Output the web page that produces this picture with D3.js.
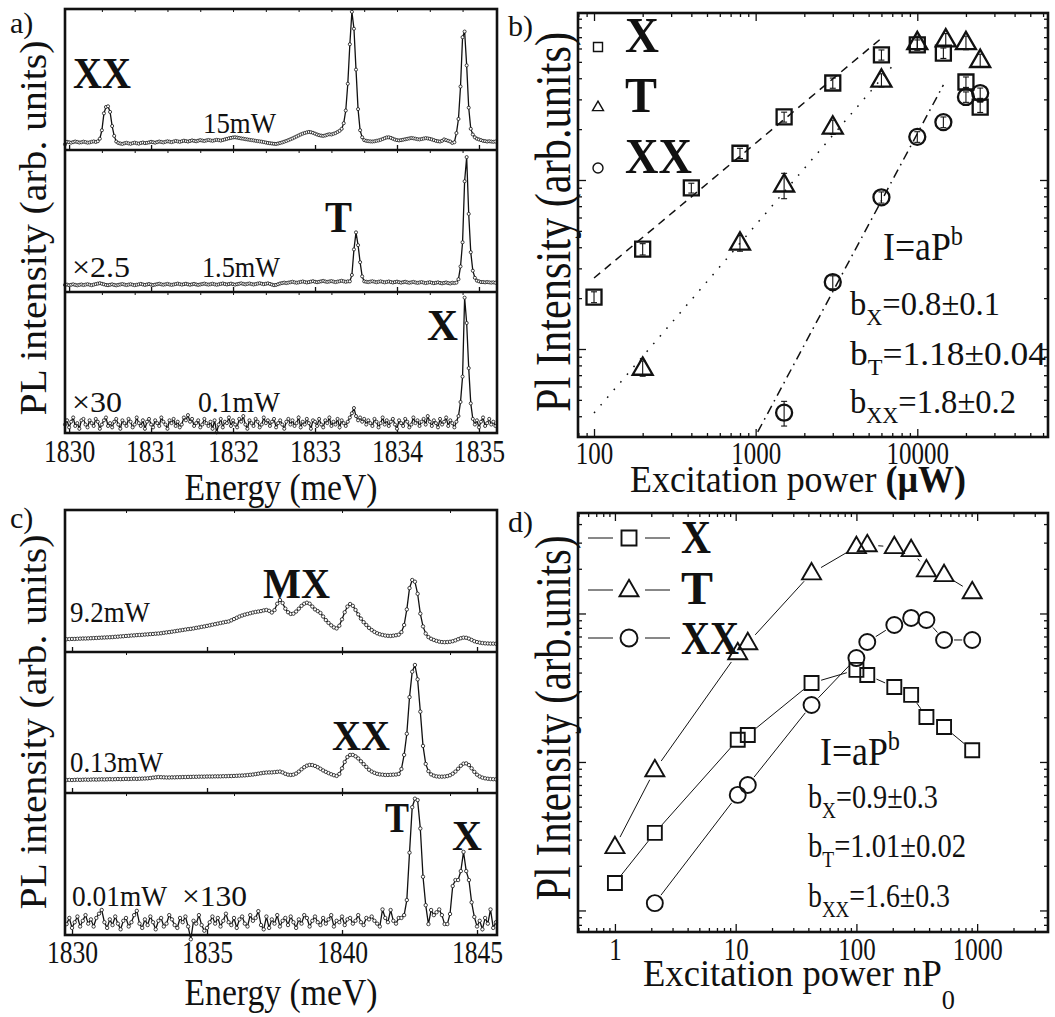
<!DOCTYPE html>
<html><head><meta charset="utf-8">
<script src="https://cdn.jsdelivr.net/npm/d3@7"></script>
<style>body{margin:0;background:#fff}svg{display:block}</style>
</head><body><svg id="fig" width="1055" height="1017"></svg>
<script>
// ---------------- DATA ----------------
// Panel a: PL spectra, uniform energy grid
const energyStartA = 1829.95, energyStepA = 0.025;
const specA15mW = [
4,5.8,5.5,5.2,5.6,6,5.7,5.3,5.5,5.9,
5.6,5.2,5.4,5.8,6.1,5.7,6.2,8,14,26,
30.5,31,27,17,10,6,5,4.6,4.3,4.8,
5.1,4.7,4.4,4.9,5.2,4.8,4.5,5,5.3,4.9,
5.1,5.4,5.8,5.5,5.2,5.6,6,5.7,5.4,5.8,
6.2,5.9,5.6,6,6.4,6.1,5.8,6.2,6.6,6.3,
6,6.4,6.8,6.5,6.2,6.6,7,6.7,6.4,6.8,
7.1,6.8,6.5,6.9,7.2,7,6.7,7.1,7.5,7.9,
8.3,8.6,8.9,9,8.8,8.5,8.2,8,7.7,7.5,
7.2,7,6.8,6.5,6.3,6.1,5.9,5.6,5.3,5,
4.8,4.6,4.4,4.3,4.6,5,5.4,5.9,6.4,7,
7.6,8.2,8.9,9.6,10.3,11,11.6,12.1,12.5,12.8,
12.6,12.2,11.6,11,10.5,10.2,10,10.3,10.8,11.2,
11,11.5,12,12.8,13.6,15,19,28,47,75,
98,86,57,29,14,9,7,6.5,6.3,6.1,
6,6.2,6.5,6.8,7.2,7.8,8.4,8.9,9,8.6,
8,7.4,7,6.8,7,7.3,7.6,7.9,8.2,8.5,
8.3,8,7.7,7.5,7.8,8.1,8.4,8.2,7.9,7.5,
7,6.5,6.2,6,6.5,7.5,7,6.5,6,5,
5.5,12,22,45,80,84,60,30,15,11,
9,8,7.5,7,6.5,6.3,6,6.2,6,5.8,6];
const specA1p5mW = [
5,5.2,4.8,5.1,5.4,5,4.7,5,5.3,4.9,
5.2,5.5,5.1,4.8,5.2,5.6,5.9,6.2,5.8,5.4,
5,4.8,5.1,5.4,5,4.7,5,5.3,5.6,5.2,
4.9,5.2,5.5,5.1,4.8,5.1,5.4,5.7,5.3,5,
5.3,5.6,5.2,4.9,5.2,5.5,5.8,5.4,5.1,5.4,
5.7,5.3,5,5.3,5.6,5.9,5.5,5.2,5.5,5.8,
5.4,5.1,5.4,5.7,5.3,5,5.3,5.6,5.9,5.5,
5.2,5.5,5.8,5.4,5.1,5.4,5.7,6,5.6,5.3,
5.6,5.9,5.5,5.2,5.5,5.8,6.1,5.7,5.4,5.7,
6,5.6,5.3,5.6,5.9,6.2,5.8,5.5,5.8,6.1,
5.7,5.2,4.8,5,5.5,6,6.3,6.6,6.3,6.6,
6.9,7.2,6.8,6.5,6.8,7.1,7.4,7,6.7,7,
7.3,7.6,7.2,6.9,7.2,7.5,7.8,7.4,7.1,7.4,
7.7,7.3,7,7.3,7.6,7.9,7.5,7.2,7.5,7.5,
12,30,42,33,21,11,7.5,7.2,7,7.3,
7.6,7.2,6.9,7.2,7.5,7.1,6.8,7.1,7.4,7,
6.7,7,7.3,6.9,6.6,6.9,7.2,6.8,6.5,6.8,
7.1,6.7,6.4,6.7,7,6.6,6.3,6.6,6.9,6.5,
6.2,6.5,6.8,6.4,6.1,6.4,6.7,6.3,6,6.5,
6.3,6.6,9,18,35,78,95,55,28,15,
10,8,7.5,7,7,6.8,7,6.8,6.6,6.8,6.5];
const specA0p1mW = [
6,9,4,8,11,5,7,3,9,10,
6,4,9,7,5,10,8,3,6,9,
11,5,7,4,8,10,6,3,9,7,
5,10,8,4,6,11,7,5,9,3,
8,10,6,4,9,7,5,11,8,6,
3,9,7,10,5,8,4,6,11,9,
12.7,8,10,5,7,9,4,6,10,7,
5,8,3,9,0.5,6,10,4,8,7,
11,5,9,6,4,10,8,12,6,3,
9,7,5,10,8,4,6,11,7,9,
5,8,10,4,7,9,6,3,8,10,
6,9,5,7,11,4,8,6,10,7,
3,9,8,5,10,6,4,9,7,11,
5,8,6,10,4,9,7,5,8,11,
14,17.7,12,9,11,8,10,6,9,7,
5,10,8,4,7,11,6,9,5,8,
10,6,3,9,7,5,10,8,4,6,
11,7,9,5,8,10,6,12,8,5,
9,7,4,10,6,8,11,5,9,7,
4,8,12,22,40,96,78,46,21,10,
6,9,4,8,11,5,7,10,6,8,5];
const spectraA = [specA15mW, specA1p5mW, specA0p1mW];
const tickEnergyA = [1830, 1831, 1832, 1833, 1834, 1835];

// Panel c: PL spectra
const energyStartC = 1829.8, energyStepC = 0.1;
const specC9p2mW = [
9,9.1,9.2,9.2,9.3,9.4,9.5,9.5,9.6,9.7,
9.8,9.9,10,10.1,10.2,10.3,10.4,10.5,10.7,10.8,
11,11.1,11.3,11.4,11.6,11.7,11.9,12,12.1,12.3,
12.4,12.6,12.7,12.9,13,13.2,13.5,13.8,14,14.3,
14.6,14.9,15.2,15.5,15.8,16.1,16.3,16.6,17,17.3,
17.7,18,18.4,18.8,19.2,19.6,20,20.4,20.8,21.2,
21.5,22.3,23.2,24.1,25,25.7,26.3,26.8,27.3,27.8,
28.2,28.5,28.8,29.3,29.6,29,27.8,29.5,34,36.6,
34.5,30.5,28,26.8,27,28.5,30.5,32.5,34,34.7,
34,32,30,28.8,27.5,25,22.5,20.5,18.8,17.3,
16.6,18.5,23,28,32,33.8,32.5,29.6,26.5,23.5,
21,19,17,15.5,14.2,13.2,12.5,12,11.6,11.4,
11.3,11.5,11.8,12.2,14,19,30,45,50.7,49.5,
41,27,18,13,10.5,9.3,8.5,7.8,7.3,7,
6.9,7,7.2,7.6,8.2,9,9.7,10.1,10,9.4,
8.5,7.6,7,6.6,6.3,6.1,6,5.9,5.9,5.8];
const specC0p13mW = [
9.2,9.3,9.2,9.3,9.4,9.3,9.4,9.5,9.4,9.5,
9.6,9.5,9.6,9.7,9.6,9.7,9.8,9.7,9.8,9.9,
9.8,9.9,10,9.9,10,10.1,10,10.1,10.2,10.3,
10.4,10.6,10.9,11.1,11.3,11.2,11.1,11,11,11.1,
11.1,11.2,11.2,11.3,11.3,11.4,11.4,11.5,11.5,11.6,
11.6,11.6,11.7,11.7,11.7,11.8,11.8,11.8,11.9,11.9,
12,12,12.1,12.2,12.3,12.4,12.5,12.7,12.9,13.1,
13.4,13.7,14,14.3,14.5,14.6,14.6,14.8,15,15.2,
14.6,13.6,13,12.8,13,13.8,15.2,16.8,18.3,19.4,
19.9,19.8,19.2,18.3,17.2,16,15,14.1,13.3,12.6,
12.1,13.5,17.5,22,25.5,27,27,26,24.5,22.5,
20.5,18.5,16.5,15.2,14.3,13.6,13.2,13,12.8,12.8,
12.9,13,13.1,13.5,17,27,42,68,86,90.8,
80.6,57.7,33.4,20.6,15.5,13.2,12.3,11.8,11.6,11.6,
11.7,12,12.6,13.7,15.2,17.2,19.3,20.8,21,19.8,
17.5,15,13,11.7,10.9,10.4,10.1,9.9,9.8,9.7];
const specC0p01mW = [
7.7,12,5,9,13,6,10,14,8,11,
6,12,15,17.6,9,5,11,7,13,8,
4,10,12,6,9,14,17,8,5,11,
7,13,9,4,10,12,6,8,14,11,
7,5,12,9,13,6,-3,10,8,14,
7,3,5,9,13,8,12,6,10,15,
9,7,12,5,11,13,8,6,14,10,
12,16.8,7,4,13,5,11,8,14,6,
10,12,7,13,9,5,11,8,14,12,
6,10,13,9,7,12,8,11,14,6,
10,9,13,7,11,12,8,10,14,9,
7,12,11,13,10,8,6,18,12,9,
17.6,10,8,12,12,14,24.6,58,90,96,
95,75,41,21,7.7,17.6,14,16,18,14,
7.7,7.7,14.8,34.5,38.7,38.7,45,58.5,45,38.7,
23,12.7,6,10,4,12,8,18,5,9];
const spectraC = [specC9p2mW, specC0p13mW, specC0p01mW];
const tickEnergyC = [1830, 1835, 1840, 1845];

// Panel b: integrated intensity vs excitation power (µW), log-log
const powerBX  = [100, 200, 400, 800, 1500, 3000, 6000, 10000, 14500, 20000, 24500];
const intensBX = [2.03, 3.9, 8.97, 14.4, 23.6, 37.5, 55, 63, 56.4, 38, 27];
const errBX    = [0.15, 0.3, 0.6, 1.0, 1.6, 2.6, 3.8, 4.4, 4, 2.7, 1.9];
const powerBT  = [200, 800, 1500, 3000, 6000, 10000, 15000, 20000, 24500];
const intensBT = [0.77, 4.24, 9.35, 20.6, 39, 65, 67.5, 65, 51];
const errBT    = [0.08, 0.45, 1.6, 2, 3.5, 6, 6, 6, 4.5];
const powerBXX  = [1500, 3000, 6000, 10000, 14500, 20000, 24500];
const intensBXX = [0.42, 2.49, 7.9, 18, 22, 31, 32.7];
const errBXX    = [0.07, 0.22, 0.6, 1.3, 1.6, 2.2, 2.3];
const fitBX  = [[100, 2.63], [6000, 69]];
const fitBT  = [[100, 0.418], [7100, 47.9]];
const fitBXX = [[1030, 0.323], [14500, 36.5]];
const tickPowerB = [100, 1000, 10000];

// Panel d: intensity vs excitation power nP0, log-log
const powerD   = [1, 2.14, 10.4, 12.6, 42.5, 100, 123, 206, 284, 380, 532, 910];
const intensDX = [0.153, 0.333, 1.41, 1.52, 3.40, 4.17, 3.85, 3.20, 2.83, 2.01, 1.72, 1.20];
const intensDT = [0.268, 0.883, 5.42, 6.33, 18.7, 28.1, 28.9, 28.1, 26.8, 19.6, 18.2, 13.95];
const powerDXX  = [2.14, 10.4, 12.6, 42.5, 100, 123, 206, 284, 380, 532, 910];
const intensDXX = [0.112, 0.600, 0.700, 2.42, 5.01, 6.43, 8.37, 9.33, 9.04, 6.63, 6.63];
const tickPowerD = [1, 10, 100, 1000];

// ---------------- DRAWING ----------------
const svg = d3.select("#fig");
const SERIF = '"Liberation Serif","Times New Roman",Times,serif';
const INK = "#111";
svg.append("rect").attr("width", 1055).attr("height", 1017).attr("fill", "#fff");

function label(parent, x, y, parts, o = {}) {
  const size = o.size || 30;
  const t = parent.append("text").attr("x", x).attr("y", y)
    .attr("font-family", SERIF).attr("font-size", size).attr("fill", INK)
    .attr("font-weight", o.bold ? "bold" : "normal")
    .attr("text-anchor", o.anchor || "start");
  if (o.rotate) t.attr("transform", `rotate(-90 ${x} ${y})`);
  if (typeof parts === "string") parts = [[parts]];
  let shift = 0;
  parts.forEach(([s, k]) => {
    const target = k === "sub" ? size * (o.subShift || 0.3) : k === "sup" ? -size * 0.38 : 0;
    const ts = t.append("tspan").text(s).attr("dy", target - shift);
    if (k === "sub" || k === "sup") ts.attr("font-size", size * (o.subScale || 0.68));
    if (k === "bold") ts.attr("font-weight", "bold");
    shift = target;
  });
  if (o.width) t.attr("textLength", o.width).attr("lengthAdjust", "spacingAndGlyphs");
  return t;
}
function squeeze(sel, f) {
  sel.each(function () {
    const L = this.getComputedTextLength();
    d3.select(this).attr("textLength", L * f).attr("lengthAdjust", "spacingAndGlyphs");
  });
}
function styleAxis(g, size) {
  g.attr("font-family", SERIF).attr("font-size", size || 32);
  g.select(".domain").remove();
  g.selectAll(".tick line").attr("stroke", INK).attr("stroke-width", 1.3);
  g.selectAll(".tick text").attr("fill", INK);
}

// ---- spectra panels (a, c) ----
function spectraPanel(cfg) {
  const g = svg.append("g");
  const x = cfg.x;
  const [xl, xr] = x.range();
  cfg.bands.forEach((band, bi) => {
    const y = d3.scaleLinear().domain([0, 100]).range([band[1], band[0]]);
    const s = cfg.spectra[bi];
    const pts = s.map((v, i) => [cfg.start + cfg.step * i, v]);
    const ax = g.append("g").attr("transform", `translate(0,${band[1]})`)
      .call(d3.axisBottom(x).tickValues(cfg.majorTicks).tickSize(-5).tickFormat(""));
    styleAxis(ax);
    const axt = g.append("g").attr("transform", `translate(0,${band[0]})`)
      .call(d3.axisTop(x).tickValues(cfg.topTicks).tickSize(-3).tickFormat(""));
    styleAxis(axt);
    axt.selectAll(".tick line").attr("stroke-width", 1);
    g.append("path").datum(pts)
      .attr("d", d3.line().x(d => x(d[0])).y(d => y(d[1])))
      .attr("fill", "none").attr("stroke", INK).attr("stroke-width", 1.3);
    g.append("g").selectAll("circle").data(pts).join("circle")
      .attr("cx", d => x(d[0])).attr("cy", d => y(d[1])).attr("r", cfg.r)
      .attr("fill", "#fff").attr("stroke", INK).attr("stroke-width", 0.8);
  });
  const top = cfg.bands[0][0], bot = cfg.bands[cfg.bands.length - 1][1];
  g.append("rect").attr("x", xl).attr("y", top).attr("width", xr - xl).attr("height", bot - top)
    .attr("fill", "none").attr("stroke", INK).attr("stroke-width", 2.6);
  cfg.bands.slice(1).forEach(b => g.append("line").attr("x1", xl).attr("x2", xr)
    .attr("y1", b[0]).attr("y2", b[0]).attr("stroke", INK).attr("stroke-width", 2.6));
  const lab = g.append("g").attr("transform", `translate(0,${bot})`)
    .call(d3.axisBottom(x).tickValues(cfg.labelTicks).tickSize(0).tickPadding(cfg.pad).tickFormat(d3.format("d")));
  styleAxis(lab, 32);
  squeeze(lab.selectAll("text"), 0.8);
  return g;
}

const xA = d3.scaleLinear().domain([1829.95, 1835.22]).range([65, 497]);
spectraPanel({
  x: xA, bands: [[9, 150], [150, 292], [292, 433]],
  spectra: spectraA, start: energyStartA, step: energyStepA, r: 1.55,
  majorTicks: tickEnergyA, topTicks: d3.range(1830.4, 1835.1, 0.4), labelTicks: tickEnergyA, pad: 6
});
const xC = d3.scaleLinear().domain([1829.74, 1845.74]).range([65, 497]);
spectraPanel({
  x: xC, bands: [[510, 652], [652, 793], [793, 935]],
  spectra: spectraC, start: energyStartC, step: energyStepC, r: 1.7,
  majorTicks: tickEnergyC, topTicks: [1832, 1836, 1840, 1844], labelTicks: tickEnergyC, pad: 5
});

// annotations a
label(svg, 73, 88, "XX", {size: 45, bold: true, width: 58});
label(svg, 203, 133, "15mW", {size: 29, width: 73});
label(svg, 325, 232, "T", {size: 45, bold: true, width: 27});
label(svg, 72, 277, "\u00d72.5", {size: 29, width: 58});
label(svg, 202, 277, "1.5mW", {size: 29, width: 78});
label(svg, 427, 340, "X", {size: 45, bold: true, width: 31});
label(svg, 72, 412, "\u00d730", {size: 29, width: 50});
label(svg, 198, 412, "0.1mW", {size: 29, width: 82});
label(svg, 281, 500, "Energy (meV)", {size: 37, anchor: "middle", width: 193});
label(svg, 46, 228, "PL intensity (arb. units)", {size: 38, anchor: "middle", rotate: true, width: 375});
label(svg, 10, 33, "a)", {size: 30});

// annotations c
label(svg, 263, 598, "MX", {size: 42, bold: true, width: 67});
label(svg, 70, 622, "9.2mW", {size: 29, width: 80});
label(svg, 332, 750, "XX", {size: 42, bold: true, width: 58});
label(svg, 70, 772, "0.13mW", {size: 29, width: 93});
label(svg, 385, 832, "T", {size: 42, bold: true, width: 24});
label(svg, 452, 850, "X", {size: 42, bold: true, width: 30});
label(svg, 72, 906, "0.01mW", {size: 29, width: 95});
label(svg, 182, 906, "\u00d7130", {size: 29, width: 65});
label(svg, 281, 1005, "Energy (meV)", {size: 37, anchor: "middle", width: 193});
label(svg, 46, 722, "PL intensity (arb. units)", {size: 38, anchor: "middle", rotate: true, width: 375});
label(svg, 10, 528, "c)", {size: 30});

// ---- log panels (b, d) ----
function logFrame(g, x, y, majorsX, labelPad) {
  const [xl, xr] = x.range(), [yb, yt] = y.range();
  const xt = x.ticks(), ytk = y.ticks();
  const isMajor = v => Math.abs(Math.log10(v) - Math.round(Math.log10(v))) < 1e-6;
  const xMin = xt.filter(v => !isMajor(v)), xMaj = xt.filter(isMajor);
  const yMin = ytk.filter(v => !isMajor(v)), yMaj = ytk.filter(isMajor);
  const mk = (axisFn, scale, vals, size, tr) => {
    const a = g.append("g").attr("transform", tr).call(axisFn(scale).tickValues(vals).tickSize(-size).tickFormat(""));
    styleAxis(a);
  };
  mk(d3.axisBottom, x, xMin, 4, `translate(0,${yb})`);
  mk(d3.axisBottom, x, xMaj, 8, `translate(0,${yb})`);
  mk(d3.axisTop, x, xMin, 4, `translate(0,${yt})`);
  mk(d3.axisTop, x, xMaj, 8, `translate(0,${yt})`);
  mk(d3.axisLeft, y, yMin, 4, `translate(${xl},0)`);
  mk(d3.axisLeft, y, yMaj, 8, `translate(${xl},0)`);
  mk(d3.axisRight, y, yMin, 4, `translate(${xr},0)`);
  mk(d3.axisRight, y, yMaj, 8, `translate(${xr},0)`);
  g.append("rect").attr("x", xl).attr("y", yt).attr("width", xr - xl).attr("height", yb - yt)
    .attr("fill", "none").attr("stroke", INK).attr("stroke-width", 2.6);
  const lab = g.append("g").attr("transform", `translate(0,${yb})`)
    .call(d3.axisBottom(x).tickValues(majorsX).tickSize(0).tickPadding(labelPad).tickFormat(d3.format("d")));
  styleAxis(lab, 32);
  squeeze(lab.selectAll("text"), 0.78);
}
function markerPath(kind, cx, cy, s) {
  if (kind === "square") return `M${cx - s / 2},${cy - s / 2}h${s}v${s}h${-s}Z`;
  if (kind === "triangle") { const h = s * 0.866; return `M${cx},${cy - h * 0.62}L${cx + s / 2},${cy + h * 0.38}L${cx - s / 2},${cy + h * 0.38}Z`; }
  const r = s / 2; return `M${cx - r},${cy}a${r},${r} 0 1,0 ${2 * r},0a${r},${r} 0 1,0 ${-2 * r},0Z`;
}

// panel b
const xB = d3.scaleLog().domain([79.6, 64370]).range([578, 1048]);
const yB = d3.scaleLog().domain([0.3015, 97.3]).range([437, 13]);
const gB = svg.append("g");
logFrame(gB, xB, yB, tickPowerB, 4);
[[fitBX, "8,6"], [fitBT, "1.6,8.5"], [fitBXX, "9,5,1.6,5"]].forEach(([f, dash]) => {
  gB.append("path").datum(f).attr("d", d3.line().x(d => xB(d[0])).y(d => yB(d[1])))
    .attr("fill", "none").attr("stroke", INK).attr("stroke-width", 1.5).attr("stroke-dasharray", dash);
});
const seriesB = [
  {p: powerBX, v: intensBX, e: errBX, kind: "square", s: 15},
  {p: powerBT, v: intensBT, e: errBT, kind: "triangle", s: 20},
  {p: powerBXX, v: intensBXX, e: errBXX, kind: "circle", s: 16}];
seriesB.forEach(S => {
  const d = S.p.map((p, i) => ({p, v: S.v[i], e: S.e[i]}));
  gB.append("g").selectAll("path").data(d).join("path")
    .attr("d", q => markerPath(S.kind, xB(q.p), yB(q.v), S.s))
    .attr("fill", "none").attr("stroke", INK).attr("stroke-width", 2.3);
  const eb = gB.append("g").attr("stroke", INK).attr("stroke-width", 1.1);
  d.forEach(q => {
    const cx = xB(q.p), y1 = yB(q.v - q.e), y2 = yB(q.v + q.e);
    eb.append("line").attr("x1", cx).attr("x2", cx).attr("y1", y1).attr("y2", y2);
    eb.append("line").attr("x1", cx - 3).attr("x2", cx + 3).attr("y1", y1).attr("y2", y1);
    eb.append("line").attr("x1", cx - 3).attr("x2", cx + 3).attr("y1", y2).attr("y2", y2);
  });
});
// legend b
[["square", 47, 9, "X", 52, 34], ["triangle", 107, 11, "T", 112, 32], ["circle", 168, 10, "XX", 173, 67]].forEach(([k, cy, s, t, by, w]) => {
  gB.append("path").attr("d", markerPath(k, 598, cy, s)).attr("fill", "none").attr("stroke", INK).attr("stroke-width", 1.4);
  label(gB, 625, by, t, {size: 50, bold: true, width: w});
});
label(gB, 883, 260, [["I=aP"], ["b", "sup"]], {size: 40, width: 80});
label(gB, 850, 315, [["b"], ["X", "sub"], ["=0.8\u00b10.1"]], {size: 34, width: 150});
label(gB, 850, 365, [["b"], ["T", "sub"], ["=1.18\u00b10.04"]], {size: 34, width: 196});
label(gB, 850, 413, [["b"], ["XX", "sub"], ["=1.8\u00b10.2"]], {size: 34, width: 166});
label(svg, 630, 492, [["Excitation power "], ["(\u00b5W)", "bold"]], {size: 37, width: 336});
label(svg, 570, 222, "Pl Intensity (arb.units)", {size: 50, anchor: "middle", rotate: true, width: 380});
label(svg, 508, 36, "b)", {size: 30});

// panel d
const xD = d3.scaleLog().domain([0.4944, 3862]).range([578, 1048]);
const yD = d3.scaleLog().domain([0.0716, 47.5]).range([932, 513]);
const gD = svg.append("g");
logFrame(gD, xD, yD, tickPowerD, 5);
const seriesD = [
  {p: powerD, v: intensDX, kind: "square", s: 14, gap: 10},
  {p: powerD, v: intensDT, kind: "triangle", s: 19, gap: 11},
  {p: powerDXX, v: intensDXX, kind: "circle", s: 16, gap: 10}];
seriesD.forEach(S => {
  const px = S.p.map((p, i) => [xD(p), yD(S.v[i])]);
  const lg = gD.append("g").attr("stroke", INK).attr("stroke-width", 1);
  for (let i = 1; i < px.length; i++) {
    const [x1, y1] = px[i - 1], [x2, y2] = px[i];
    const L = Math.hypot(x2 - x1, y2 - y1);
    if (L <= 2 * S.gap + 2) continue;
    const ux = (x2 - x1) / L, uy = (y2 - y1) / L;
    lg.append("line").attr("x1", x1 + ux * S.gap).attr("y1", y1 + uy * S.gap)
      .attr("x2", x2 - ux * S.gap).attr("y2", y2 - uy * S.gap);
  }
  gD.append("g").selectAll("path").data(px).join("path")
    .attr("d", q => markerPath(S.kind, q[0], q[1], S.s))
    .attr("fill", "none").attr("stroke", INK).attr("stroke-width", 1.9);
});
// legend d
[["square", 538, 15, "X", 553, 30], ["triangle", 590, 19, "T", 604, 32], ["circle", 638, 17, "XX", 654, 58]].forEach(([k, cy, s, t, by, w]) => {
  gD.append("line").attr("x1", 588).attr("x2", 613).attr("y1", cy).attr("y2", cy).attr("stroke", INK).attr("stroke-width", 1);
  gD.append("line").attr("x1", 645).attr("x2", 670).attr("y1", cy).attr("y2", cy).attr("stroke", INK).attr("stroke-width", 1);
  gD.append("path").attr("d", markerPath(k, 629, cy, s)).attr("fill", "none").attr("stroke", INK).attr("stroke-width", 1.9);
  label(gD, 681, by, t, {size: 47, bold: true, width: w});
});
label(gD, 820, 765, [["I=aP"], ["b", "sup"]], {size: 40, width: 80});
label(gD, 808, 808, [["b"], ["X", "sub"], ["=0.9\u00b10.3"]], {size: 34, width: 130});
label(gD, 808, 857, [["b"], ["T", "sub"], ["=1.01\u00b10.02"]], {size: 34, width: 158});
label(gD, 808, 907, [["b"], ["XX", "sub"], ["=1.6\u00b10.3"]], {size: 34, width: 142});
label(svg, 643, 986, [["Excitation power nP"], ["0", "sub"]], {size: 37, width: 312, subShift: 0.62, subScale: 0.72});
label(svg, 570, 718, "Pl Intensity (arb.units)", {size: 50, anchor: "middle", rotate: true, width: 365});
label(svg, 508, 532, "d)", {size: 30});
</script></body></html>
